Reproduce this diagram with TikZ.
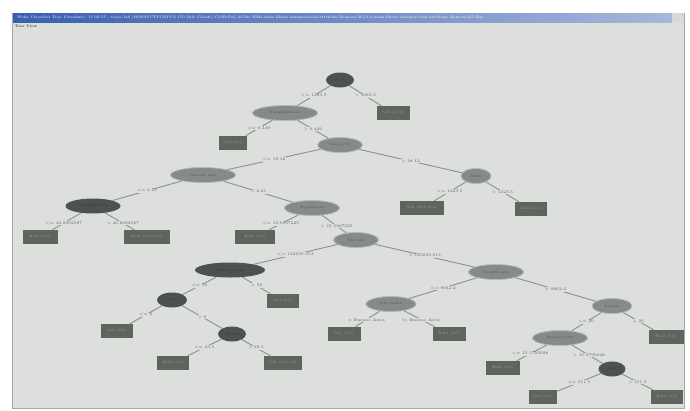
\documentclass[tikz,border=0pt]{standalone}
\usetikzlibrary{shapes.geometric}
\definecolor{bgc}{HTML}{DCDFDC}
\definecolor{midell}{HTML}{858B87}
\definecolor{darkell}{HTML}{4C524D}
\definecolor{leafc}{HTML}{5E645E}
\definecolor{edgec}{HTML}{8C918E}
\definecolor{lblc}{HTML}{5A5F5C}
\definecolor{titlec}{HTML}{3A5FB0}
\tikzset{
  inode/.style={ellipse,fill=midell,draw=midell!60!white,line width=0.8pt,inner sep=0pt,minimum height=15pt,text=darkell,font=\fontsize{3.5}{4}\selectfont},
  dnode/.style={ellipse,fill=darkell,inner sep=0pt,minimum height=15pt,text=darkell!70!black,font=\fontsize{3.5}{4}\selectfont},
  leaf/.style={rectangle,fill=leafc,inner sep=0pt,minimum height=14pt,text=leafc!60!white,font=\fontsize{3.5}{4}\selectfont},
  conn/.style={draw=edgec,line width=0.9pt},
  lbl/.style={fill=bgc,inner sep=0.6pt,text=lblc,font=\fontsize{4}{4.5}\selectfont}
}
\begin{document}
\begin{tikzpicture}[x=1pt,y=-1pt]
\useasboundingbox (0,0) rectangle (690,410);
\fill[white] (0,0) rectangle (690,410);
% window
\fill[bgc] (12,13) rectangle (684,408);
\draw[gray!70,line width=0.6pt] (12,13) rectangle (684,408);
\shade[left color=titlec,right color=titlec!45!white] (13,13) rectangle (672,22);
\fill[gray!30] (672,13) rectangle (684,22);
\node[anchor=west,text=white,font=\fontsize{3.6}{4}\selectfont,inner sep=0pt] (title) at (17,17.5) {Weka Classifier Tree Visualizer: 15:02:55 - trees.J48 (HSHSPCTPCRPC2 170 Sale Cleant) CoWaPai] df:Dis HiHi-weka.filters.unsupervised.attribute.Remove-R1,2,3-weka.filters.unsupervised.attribute.Remove-R5-Rm};
\node[anchor=west,text=black,font=\fontsize{3.6}{4}\selectfont,inner sep=0pt] (menu) at (15,26) {Tree View};
% level 0
\node[dnode,minimum width=28pt] (r) at (340,80) {Price};
% level 1
\node[inode,minimum width=65pt] (a) at (285,113) {Unemployment};
\node[leaf,minimum width=33pt] (b) at (393,113) {Sell (47.0)};
% level 2
\node[leaf,minimum width=28pt] (c) at (233,143) {Sell (2.0)};
\node[inode,minimum width=45pt] (d) at (340,145) {Size(sq ft)};
% level 3
\node[inode,minimum width=65pt] (e) at (203,175) {Interest rate};
\node[inode,minimum width=30pt] (f) at (476,176) {Bdrm};
% level 4
\node[dnode,minimum width=55pt] (g) at (93,206) {Mortgage rate};
\node[inode,minimum width=55pt] (h) at (312,208) {Population};
\node[leaf,minimum width=44pt] (i) at (422,208) {Sell (25.0/5.0)};
\node[leaf,minimum width=32pt] (j) at (531,209) {Hold (4.0)};
% level 5
\node[leaf,minimum width=35pt] (k) at (40,237) {Hold (4.0)};
\node[leaf,minimum width=46pt] (l) at (147,237) {Hold (12.0/1.0)};
\node[leaf,minimum width=40pt] (m) at (255,237) {Hold (6.0)};
\node[inode,minimum width=45pt] (n) at (356,240) {Tax rate};
% level 6
\node[dnode,minimum width=70pt] (o) at (230,270) {Median income};
\node[inode,minimum width=55pt] (p) at (496,272) {Growth rate};
% level 7
\node[dnode,minimum width=30pt] (q) at (172,300) {Age};
\node[leaf,minimum width=32pt] (s) at (283,301) {Sell (3.0)};
\node[inode,minimum width=50pt] (t) at (391,304) {City name};
\node[inode,minimum width=40pt] (u) at (612,306) {Lotsize};
% level 8
\node[leaf,minimum width=32pt] (v) at (117,331) {Sell (2.0)};
\node[dnode,minimum width=28pt] (w) at (232,334) {Baths};
\node[leaf,minimum width=33pt] (x) at (344,334) {Sell (3.0)};
\node[leaf,minimum width=33pt] (y) at (449,334) {Hold (2.0)};
\node[inode,minimum width=55pt] (z) at (560,338) {Vacancy rate};
\node[leaf,minimum width=35pt] (aa) at (666,337) {Hold (5.0)};
% level 9
\node[leaf,minimum width=32pt] (ab) at (173,363) {Hold (3.0)};
\node[leaf,minimum width=38pt] (ac) at (283,363) {Sell (4.0/1.0)};
\node[leaf,minimum width=34pt] (ad) at (503,368) {Hold (3.0)};
\node[dnode,minimum width=27pt] (ae) at (612,369) {Age};
% level 10
\node[leaf,minimum width=28pt] (af) at (543,397) {Sell (2.0)};
\node[leaf,minimum width=32pt] (ag) at (667,397) {Hold (3.0)};
% connectors
\draw[conn] (r) -- node[lbl] (lra) {<= 1283.5} (a);
\draw[conn] (r) -- node[lbl] (lrb) {> 1283.5} (b);
\draw[conn] (a) -- node[lbl] (lac) {<= 0.449} (c);
\draw[conn] (a) -- node[lbl] (lad) {> 0.449} (d);
\draw[conn] (d) -- node[lbl] (lde) {<= 18.12} (e);
\draw[conn] (d) -- node[lbl] (ldf) {> 18.12} (f);
\draw[conn] (e) -- node[lbl] (leg) {<= 4.65} (g);
\draw[conn] (e) -- node[lbl] (leh) {> 4.65} (h);
\draw[conn] (f) -- node[lbl] (lfi) {<= 1223.5} (i);
\draw[conn] (f) -- node[lbl] (lfj) {> 1223.5} (j);
\draw[conn] (g) -- node[lbl,pos=0.6] (lgk) {<= 46.8002587} (k);
\draw[conn] (g) -- node[lbl,pos=0.6] (lgl) {> 46.8002587} (l);
\draw[conn] (h) -- node[lbl,pos=0.6] (lhm) {<= 15.5967225} (m);
\draw[conn] (h) -- node[lbl,pos=0.6] (lhn) {> 15.5967225} (n);
\draw[conn] (n) -- node[lbl] (lno) {<= 123035.913} (o);
\draw[conn] (n) -- node[lbl] (lnp) {> 123035.913} (p);
\draw[conn] (o) -- node[lbl] (loq) {<= 56} (q);
\draw[conn] (o) -- node[lbl] (los) {> 56} (s);
\draw[conn] (p) -- node[lbl] (lpt) {<= 9962.2} (t);
\draw[conn] (p) -- node[lbl] (lpu) {> 9962.2} (u);
\draw[conn] (q) -- node[lbl] (lqv) {<= 0} (v);
\draw[conn] (q) -- node[lbl] (lqw) {> 0} (w);
\draw[conn] (t) -- node[lbl,pos=0.55] (ltx) {= Buenos Aires} (x);
\draw[conn] (t) -- node[lbl,pos=0.55] (lty) {!= Buenos Aires} (y);
\draw[conn] (u) -- node[lbl] (luz) {<= 20} (z);
\draw[conn] (u) -- node[lbl] (luaa) {> 20} (aa);
\draw[conn] (w) -- node[lbl] (lwab) {<= 23.5} (ab);
\draw[conn] (w) -- node[lbl] (lwac) {> 23.5} (ac);
\draw[conn] (z) -- node[lbl,pos=0.55] (lzad) {<= 15.5795028} (ad);
\draw[conn] (z) -- node[lbl,pos=0.55] (lzae) {> 15.5795028} (ae);
\draw[conn] (ae) -- node[lbl] (laeaf) {<= 511.5} (af);
\draw[conn] (ae) -- node[lbl] (laeag) {> 511.5} (ag);
\end{tikzpicture}
\end{document}
